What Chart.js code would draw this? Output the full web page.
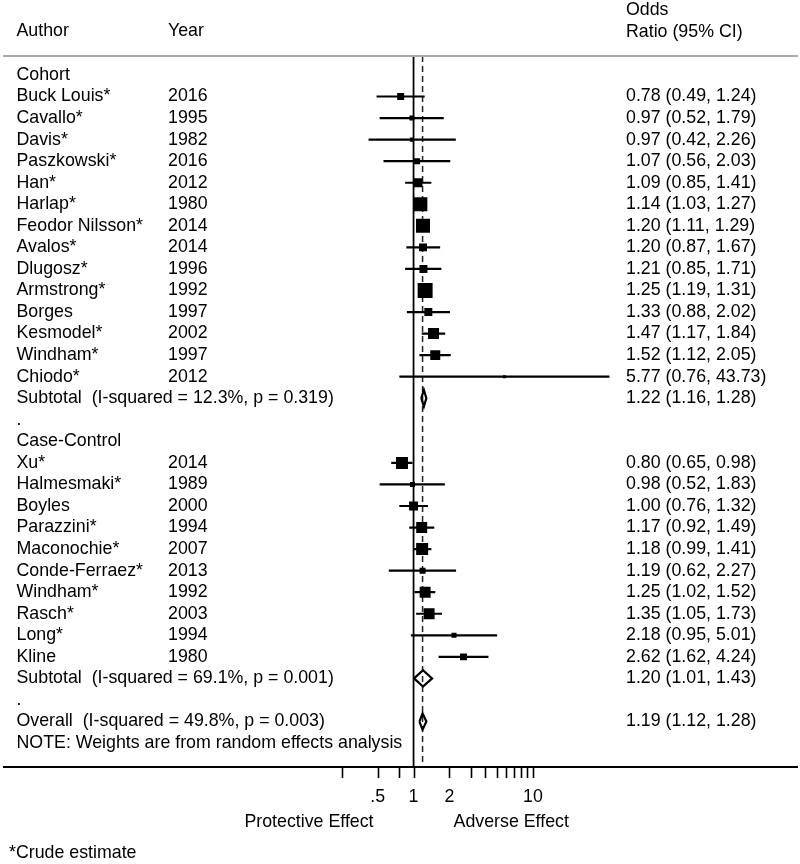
<!DOCTYPE html>
<html><head><meta charset="utf-8">
<script src="https://cdn.jsdelivr.net/npm/chart.js@4.4.1/dist/chart.umd.min.js"></script>
<style>html,body{margin:0;padding:0;background:#fff;}#wrap{position:relative;width:800px;height:864px;}</style>
</head><body><div id="wrap"><canvas id="c"></canvas></div>
<script>
// ---------- data ----------
const cohortAuthors = ['Buck Louis*','Cavallo*','Davis*','Paszkowski*','Han*','Harlap*','Feodor Nilsson*','Avalos*','Dlugosz*','Armstrong*','Borges','Kesmodel*','Windham*','Chiodo*'];
const cohortYears = ['2016','1995','1982','2016','2012','1980','2014','2014','1996','1992','1997','2002','1997','2012'];
const cohortOR = [0.78,0.97,0.97,1.07,1.09,1.14,1.20,1.20,1.21,1.25,1.33,1.47,1.52,5.77];
const cohortLo = [0.49,0.52,0.42,0.56,0.85,1.03,1.11,0.87,0.85,1.19,0.88,1.17,1.12,0.76];
const cohortHi = [1.24,1.79,2.26,2.03,1.41,1.27,1.29,1.67,1.71,1.31,2.02,1.84,2.05,43.73];
const cohortWeights = [2.3,1.2,0.8,1.7,3.8,9.3,9.3,3.0,3.0,10.6,3.0,5.7,4.7,0.4];

const caseAuthors = ['Xu*','Halmesmaki*','Boyles','Parazzini*','Maconochie*','Conde-Ferraez*','Windham*','Rasch*','Long*','Kline'];
const caseYears = ['2014','1989','2000','1994','2007','2013','1992','2003','1994','1980'];
const caseOR = [0.80,0.98,1.00,1.17,1.18,1.19,1.25,1.35,2.18,2.62];
const caseLo = [0.65,0.52,0.76,0.92,0.99,0.62,1.02,1.05,0.95,1.62];
const caseHi = [0.98,1.83,1.32,1.49,1.41,2.27,1.52,1.73,5.01,4.24];
const caseWeights = [6.8,1.2,3.8,5.7,6.8,1.7,5.7,5.7,1.2,2.3];

const pooledLabels = ['Subtotal  (I-squared = 12.3%, p = 0.319)','Subtotal  (I-squared = 69.1%, p = 0.001)','Overall  (I-squared = 49.8%, p = 0.003)'];
const pooledOR = [1.22,1.20,1.19];
const pooledLo = [1.16,1.01,1.12];
const pooledHi = [1.28,1.43,1.28];

const groupLabels = ['Cohort','Case-Control'];
const headerLabels = ['Author','Year','Odds','Ratio (95% CI)'];
const noteLabel = 'NOTE: Weights are from random effects analysis';
const footnote = '*Crude estimate';
const effectLabels = ['Protective Effect','Adverse Effect'];
const xTickValues = [0.25,0.5,0.75,1,2,3,4,5,6,7,8,9,10];
const xTickLabels = ['','.5','','1','2','','','','','','','','10'];

// ---------- layout of rows ----------
const rows = [];
function addGroup(label, authors, years, or, lo, hi, w, pi){
  rows.push({left:label});
  authors.forEach((a,i)=>rows.push({left:a, year:years[i], est:or[i], lo:lo[i], hi:hi[i], w:w[i], kind:'study'}));
  rows.push({left:pooledLabels[pi], est:pooledOR[pi], lo:pooledLo[pi], hi:pooledHi[pi], kind:'pooled'});
  rows.push({left:'.'});
}
addGroup(groupLabels[0], cohortAuthors, cohortYears, cohortOR, cohortLo, cohortHi, cohortWeights, 0);
addGroup(groupLabels[1], caseAuthors, caseYears, caseOR, caseLo, caseHi, caseWeights, 1);
rows.push({left:pooledLabels[2], est:pooledOR[2], lo:pooledLo[2], hi:pooledHi[2], kind:'pooled'});
rows.push({left:noteLabel});

const Y_MIN = -0.88, Y_MAX = 32.11;
const FONT = '17.8px "Liberation Sans", Arial, sans-serif';
const fmt = v => v.toFixed(2);

const datasets = [];
// CI lines
rows.forEach((r,i)=>{
  if (r.kind==='study') {
    datasets.push({type:'scatter', data:[{x:r.lo,y:i},{x:r.hi,y:i}], showLine:true, borderColor:'#000', borderWidth:2.2, pointRadius:0, order:2});
  }
});
// boxes
const boxPts = [], boxR = [];
rows.forEach((r,i)=>{ if (r.kind==='study'){ boxPts.push({x:r.est,y:i}); boxR.push(Math.sqrt(r.w*21.13)/Math.SQRT2); }});
datasets.push({type:'scatter', data:boxPts, pointStyle:'rect', pointRadius:boxR, pointBackgroundColor:'#000', pointBorderWidth:0, showLine:false, order:1});
// diamonds
const DH = 0.38;
rows.forEach((r,i)=>{
  if (r.kind==='pooled') {
    datasets.push({type:'scatter', data:[{x:r.lo,y:i},{x:r.est,y:i-DH},{x:r.hi,y:i},{x:r.est,y:i+DH},{x:r.lo,y:i}], showLine:true, borderColor:'#000', borderWidth:2.2, borderJoinStyle:'miter', pointRadius:0, tension:0, order:1});
  }
});
// reference lines
datasets.push({type:'scatter', data:[{x:1,y:Y_MIN},{x:1,y:Y_MAX}], showLine:true, borderColor:'#000', borderWidth:1.8, pointRadius:0, order:3});
datasets.push({type:'scatter', data:[{x:pooledOR[2],y:Y_MIN},{x:pooledOR[2],y:Y_MAX}], showLine:true, borderColor:'#222', borderWidth:1.5, borderDash:[6,4], pointRadius:0, order:3});

const textPlugin = {
  id:'forestText',
  afterDraw(chart){
    const {ctx, chartArea:ca, scales:{x,y}} = chart;
    ctx.save();
    ctx.font = FONT; ctx.fillStyle = '#000'; ctx.textBaseline = 'middle'; ctx.textAlign = 'left';
    // header
    ctx.fillText(headerLabels[0], 16.5, 31);
    ctx.fillText(headerLabels[1], 168, 31);
    ctx.fillText(headerLabels[2], 626, 10);
    ctx.fillText(headerLabels[3], 626, 32);
    // header rule
    ctx.strokeStyle = '#aaaaaa'; ctx.lineWidth = 2;
    ctx.beginPath(); ctx.moveTo(3, ca.top); ctx.lineTo(798, ca.top); ctx.stroke();
    // rows
    rows.forEach((r,i)=>{
      const py = y.getPixelForValue(i);
      ctx.fillText(r.left, 16.5, py);
      if (r.year) ctx.fillText(r.year, 168, py);
      if (r.est !== undefined) ctx.fillText(fmt(r.est)+' ('+fmt(r.lo)+', '+fmt(r.hi)+')', 626, py);
    });
    // axis
    ctx.strokeStyle = '#000'; ctx.lineWidth = 2;
    ctx.beginPath(); ctx.moveTo(3, ca.bottom); ctx.lineTo(798, ca.bottom); ctx.stroke();
    ctx.lineWidth = 1.6;
    ctx.textAlign = 'center';
    xTickValues.forEach((v,i)=>{
      const px = Math.round(x.getPixelForValue(v)) + 0.5;
      ctx.beginPath(); ctx.moveTo(px, ca.bottom); ctx.lineTo(px, ca.bottom+11); ctx.stroke();
      if (xTickLabels[i]) ctx.fillText(xTickLabels[i], x.getPixelForValue(v), ca.bottom+30);
    });
    const p1 = x.getPixelForValue(1);
    ctx.textAlign = 'right'; ctx.fillText(effectLabels[0], p1-40, ca.bottom+55);
    ctx.textAlign = 'left'; ctx.fillText(effectLabels[1], p1+40, ca.bottom+55);
    ctx.fillText(footnote, 9, ca.bottom+86);
    ctx.restore();
  }
};

new Chart(document.getElementById('c'), {
  type:'scatter',
  data:{datasets},
  options:{
    responsive:true, maintainAspectRatio:false, animation:false, events:[],
    layout:{padding:{left:3, right:2, top:56, bottom:97}},
    plugins:{legend:{display:false}, tooltip:{enabled:false}},
    scales:{
      x:{type:'logarithmic', min:0.000422, max:1405, bounds:'data', display:false},
      y:{type:'linear', reverse:true, min:Y_MIN, max:Y_MAX, bounds:'data', display:false}
    }
  },
  plugins:[textPlugin]
});
</script></body></html>
